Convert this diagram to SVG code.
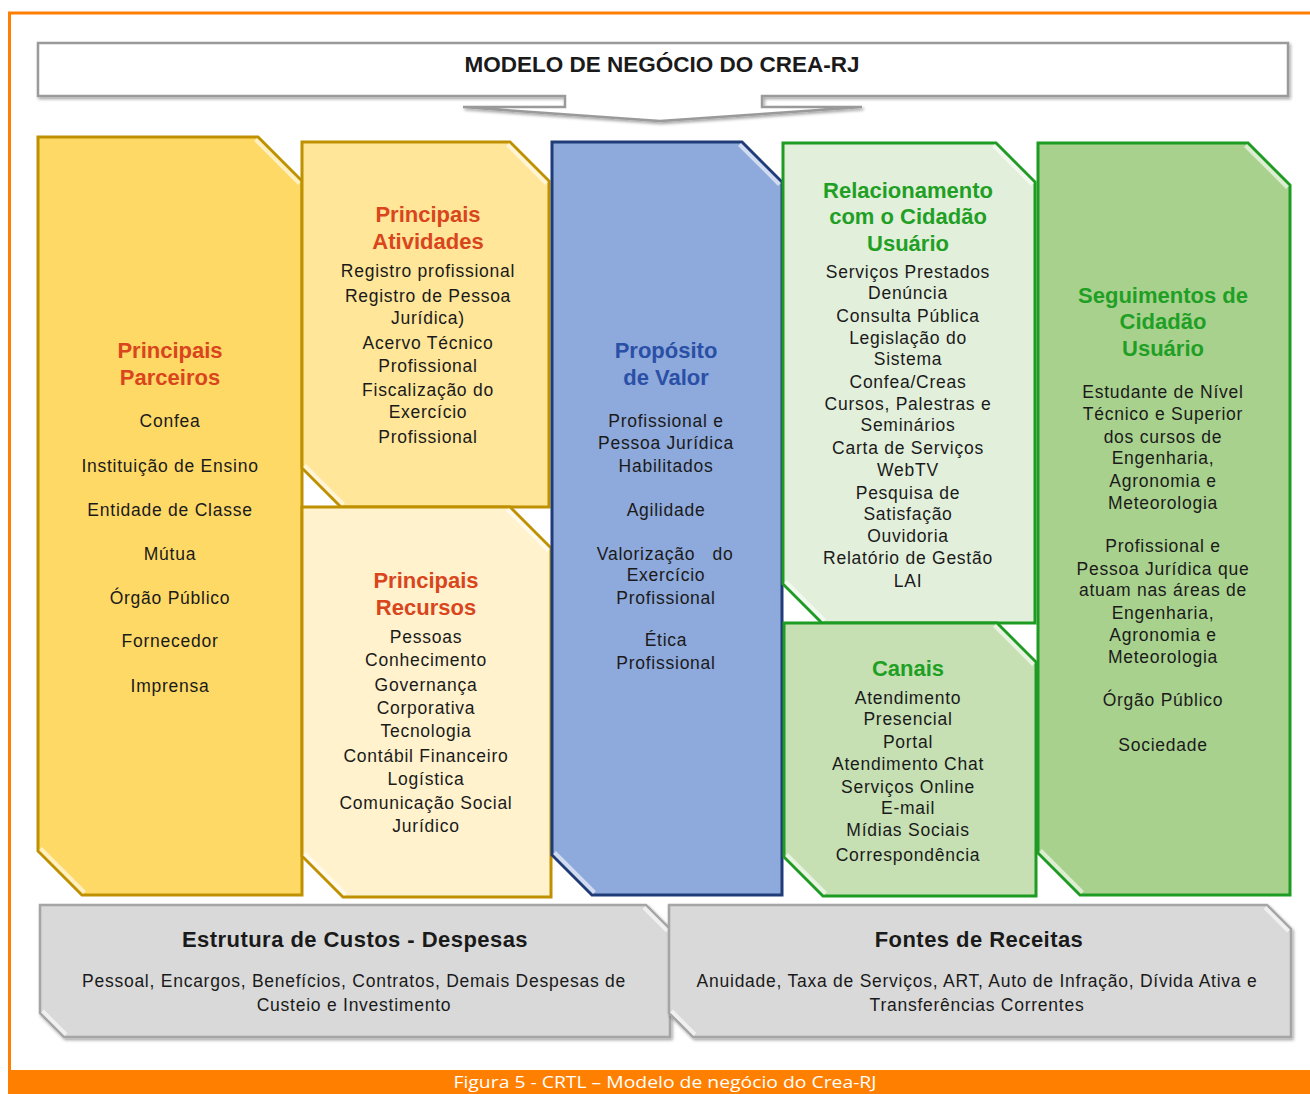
<svg xmlns="http://www.w3.org/2000/svg" width="1310" height="1094" viewBox="0 0 1310 1094">
<defs>
<filter id="sh" x="-5%" y="-5%" width="110%" height="115%">
<feDropShadow dx="1.5" dy="2" stdDeviation="1.5" flood-color="#000" flood-opacity="0.35"/>
</filter>
</defs>
<style>
.box{stroke-width:3;stroke-linejoin:miter}
.gold{stroke:#BF9000}
.blue{stroke:#1F3C78}
.green{stroke:#1E9B22}
.gray{stroke:#A5A5A5;stroke-width:2.5}
.hl{stroke:#fff;stroke-opacity:0.6;stroke-width:4;fill:none}
text{font-family:"Liberation Sans",Arial,sans-serif;text-anchor:middle}
.b{font-size:17.5px;fill:#1a1a1a;letter-spacing:0.75px}
.t{font-size:22px;font-weight:bold}
.red{fill:#D9451C}
.bt{fill:#2A4FA6}
.gt{fill:#1FA025}
.k{fill:#1a1a1a}
</style>
<rect width="1310" height="1094" fill="#fff"/>
<path d="M9.5,1070 V13 H1310" fill="none" stroke="#FF7F00" stroke-width="3"/>
<rect x="8" y="1070" width="1302" height="24" fill="#FF7F00"/>
<text x="665" y="1088" textLength="423" lengthAdjust="spacingAndGlyphs" style="font-family:'Open Sans','Noto Sans',sans-serif;font-size:17px;fill:#fff">Figura 5 - CRTL – Modelo de negócio do Crea-RJ</text>

<g id="header">
<path d="M38,43 H1288 V96 H762 V107 H862 L660,121 L463,107 H565 V96 H38 Z" fill="#fff" stroke="#9A9A9A" stroke-width="2.5" filter="url(#sh)"/>
<text x="662" y="72" class="t k" style="font-size:22.5px">MODELO DE NEGÓCIO DO CREA-RJ</text>
</g>

<g id="parceiros">
<path class="box gold" d="M38,137 H258 L302,181 V895 H82 L38,851 Z" fill="#FFD966"/>
<path class="hl" d="M255.5,139.5 L299.5,183.5 M40.5,848.5 L84.5,892.5"/>
<text x="170" y="358" class="t red">Principais</text>
<text x="170" y="385" class="t red">Parceiros</text>
<text x="170" y="427" class="b">Confea</text>
<text x="170" y="472" class="b">Instituição de Ensino</text>
<text x="170" y="516" class="b">Entidade de Classe</text>
<text x="170" y="560" class="b">Mútua</text>
<text x="170" y="604" class="b">Órgão Público</text>
<text x="170" y="647" class="b">Fornecedor</text>
<text x="170" y="692" class="b">Imprensa</text>
</g>

<g id="atividades">
<path class="box gold" d="M302,142 H510 L549,181 V507 H341 L302,468 Z" fill="#FFE699"/>
<path class="hl" d="M507.5,144.5 L546.5,183.5 M304.5,465.5 L343.5,504.5"/>
<text x="428" y="222" class="t red">Principais</text>
<text x="428" y="249" class="t red">Atividades</text>
<text x="428" y="277" class="b">Registro profissional</text>
<text x="428" y="302" class="b">Registro de Pessoa</text>
<text x="428" y="324" class="b">Jurídica)</text>
<text x="428" y="349" class="b">Acervo Técnico</text>
<text x="428" y="372" class="b">Profissional</text>
<text x="428" y="396" class="b">Fiscalização do</text>
<text x="428" y="418" class="b">Exercício</text>
<text x="428" y="443" class="b">Profissional</text>
</g>

<g id="recursos">
<path class="box gold" d="M302,507 H510 L551,548 V897 H343 L302,856 Z" fill="#FFF2CC"/>
<path class="hl" d="M507.5,509.5 L548.5,550.5 M304.5,853.5 L345.5,894.5"/>
<text x="426" y="588" class="t red">Principais</text>
<text x="426" y="615" class="t red">Recursos</text>
<text x="426" y="643" class="b">Pessoas</text>
<text x="426" y="666" class="b">Conhecimento</text>
<text x="426" y="691" class="b">Governança</text>
<text x="426" y="714" class="b">Corporativa</text>
<text x="426" y="737" class="b">Tecnologia</text>
<text x="426" y="762" class="b">Contábil Financeiro</text>
<text x="426" y="785" class="b">Logística</text>
<text x="426" y="809" class="b">Comunicação Social</text>
<text x="426" y="832" class="b">Jurídico</text>
</g>

<g id="proposito">
<path class="box blue" d="M552,142 H742 L782,182 V895 H592 L552,855 Z" fill="#8EA9DB"/>
<path class="hl" d="M739.5,144.5 L779.5,184.5 M554.5,852.5 L594.5,892.5"/>
<text x="666" y="358" class="t bt">Propósito</text>
<text x="666" y="385" class="t bt">de Valor</text>
<text x="666" y="427" class="b">Profissional e</text>
<text x="666" y="449" class="b">Pessoa Jurídica</text>
<text x="666" y="472" class="b">Habilitados</text>
<text x="666" y="516" class="b">Agilidade</text>
<text x="646" y="560" class="b">Valorização</text>
<text x="723" y="560" class="b">do</text>
<text x="666" y="581" class="b">Exercício</text>
<text x="666" y="604" class="b">Profissional</text>
<text x="666" y="646" class="b">Ética</text>
<text x="666" y="669" class="b">Profissional</text>
</g>

<g id="relacionamento">
<path class="box green" d="M783,143 H996 L1035,182 V623 H822 L783,584 Z" fill="#E2EFDA"/>
<path class="hl" d="M993.5,145.5 L1032.5,184.5 M785.5,581.5 L824.5,620.5"/>
<text x="908" y="198" class="t gt">Relacionamento</text>
<text x="908" y="224" class="t gt">com o Cidadão</text>
<text x="908" y="251" class="t gt">Usuário</text>
<text x="908" y="278" class="b">Serviços Prestados</text>
<text x="908" y="299" class="b">Denúncia</text>
<text x="908" y="322" class="b">Consulta Pública</text>
<text x="908" y="344" class="b">Legislação do</text>
<text x="908" y="365" class="b">Sistema</text>
<text x="908" y="388" class="b">Confea/Creas</text>
<text x="908" y="410" class="b">Cursos, Palestras e</text>
<text x="908" y="431" class="b">Seminários</text>
<text x="908" y="454" class="b">Carta de Serviços</text>
<text x="908" y="476" class="b">WebTV</text>
<text x="908" y="499" class="b">Pesquisa de</text>
<text x="908" y="520" class="b">Satisfação</text>
<text x="908" y="542" class="b">Ouvidoria</text>
<text x="908" y="564" class="b">Relatório de Gestão</text>
<text x="908" y="587" class="b">LAI</text>
</g>

<g id="canais">
<path class="box green" d="M784,623 H997 L1036,662 V896 H823 L784,857 Z" fill="#C6E0B4"/>
<path class="hl" d="M994.5,625.5 L1033.5,664.5 M786.5,854.5 L825.5,893.5"/>
<text x="908" y="676" class="t gt">Canais</text>
<text x="908" y="704" class="b">Atendimento</text>
<text x="908" y="725" class="b">Presencial</text>
<text x="908" y="748" class="b">Portal</text>
<text x="908" y="770" class="b">Atendimento Chat</text>
<text x="908" y="793" class="b">Serviços Online</text>
<text x="908" y="814" class="b">E-mail</text>
<text x="908" y="836" class="b">Mídias Sociais</text>
<text x="908" y="861" class="b">Correspondência</text>
</g>

<g id="seguimentos">
<path class="box green" d="M1038,143 H1248 L1290,185 V895 H1080 L1038,853 Z" fill="#A9D18E"/>
<path class="hl" d="M1245.5,145.5 L1287.5,187.5 M1040.5,850.5 L1082.5,892.5"/>
<text x="1163" y="303" class="t gt">Seguimentos de</text>
<text x="1163" y="329" class="t gt">Cidadão</text>
<text x="1163" y="356" class="t gt">Usuário</text>
<text x="1163" y="398" class="b">Estudante de Nível</text>
<text x="1163" y="420" class="b">Técnico e Superior</text>
<text x="1163" y="443" class="b">dos cursos de</text>
<text x="1163" y="464" class="b">Engenharia,</text>
<text x="1163" y="487" class="b">Agronomia e</text>
<text x="1163" y="509" class="b">Meteorologia</text>
<text x="1163" y="552" class="b">Profissional e</text>
<text x="1163" y="575" class="b">Pessoa Jurídica que</text>
<text x="1163" y="596" class="b">atuam nas áreas de</text>
<text x="1163" y="619" class="b">Engenharia,</text>
<text x="1163" y="641" class="b">Agronomia e</text>
<text x="1163" y="663" class="b">Meteorologia</text>
<text x="1163" y="706" class="b">Órgão Público</text>
<text x="1163" y="751" class="b">Sociedade</text>
</g>

<g id="custos">
<path class="gray" d="M40,905 H646 L670,929 V1037 H64 L40,1013 Z" fill="#D9D9D9" filter="url(#sh)"/>
<path class="hl" d="M644,907.5 L667.5,931 M42.5,1011 L66,1034.5"/>
<text x="355" y="947" class="t k" style="font-size:22px;letter-spacing:0.45px">Estrutura de Custos - Despesas</text>
<text x="354" y="987" class="b">Pessoal, Encargos, Benefícios, Contratos, Demais Despesas de</text>
<text x="354" y="1011" class="b">Custeio e Investimento</text>
</g>

<g id="receitas">
<path class="gray" d="M669,905 H1267 L1291,929 V1037 H693 L669,1013 Z" fill="#D9D9D9" filter="url(#sh)"/>
<path class="hl" d="M1265,907.5 L1288.5,931 M671.5,1011 L695,1034.5"/>
<text x="979" y="947" class="t k" style="font-size:22px;letter-spacing:0.45px">Fontes de Receitas</text>
<text x="977" y="987" class="b">Anuidade, Taxa de Serviços, ART, Auto de Infração, Dívida Ativa e</text>
<text x="977" y="1011" class="b">Transferências Correntes</text>
</g>

<g id="connectors"></g>
</svg>
